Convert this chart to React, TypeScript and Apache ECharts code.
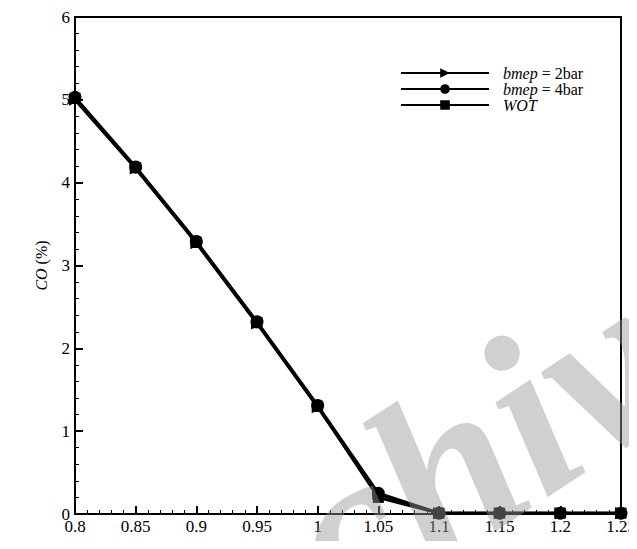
import React, { useEffect, useRef } from "react";
import * as echarts from "echarts";

const lambdaValues = [0.8, 0.85, 0.9, 0.95, 1.0, 1.05, 1.1, 1.15, 1.2, 1.25];
const co2bar = [5.0, 4.17, 3.27, 2.3, 1.29, 0.24, 0.01, 0.01, 0.01, 0.01];
const co4bar = [5.03, 4.19, 3.29, 2.32, 1.31, 0.25, 0.01, 0.01, 0.01, 0.01];
const coWOT = [5.02, 4.18, 3.28, 2.31, 1.3, 0.2, 0.01, 0.01, 0.01, 0.01];
const seriesNames = ["bmep2", "bmep4", "WOT"];
const legendLabels: Record<string, string> = {
  bmep2: "{i|bmep} = 2bar",
  bmep4: "{i|bmep} = 4bar",
  WOT: "{i|WOT}",
};

const FONT = "Liberation Serif, Times New Roman, serif";

export default function App() {
  const ref = useRef<HTMLDivElement>(null);
  useEffect(() => {
    if (!ref.current) return;
    const chart = echarts.init(ref.current, undefined, { renderer: "svg" });
    const pair = (ys: number[]) => lambdaValues.map((x, i) => [x, ys[i]]);
    const baseSeries = {
      type: "line" as const,
      lineStyle: { color: "#000", width: 3 },
      itemStyle: { color: "#000" },
      showSymbol: true,
    };
    chart.setOption({
      animation: false,
      backgroundColor: "#fff",
      textStyle: { fontFamily: FONT },
      grid: {
        left: 75,
        right: 16,
        top: 17,
        bottom: 35,
        show: true,
        borderColor: "#000",
        borderWidth: 2,
        outerBoundsMode: "none",
        containLabel: false,
      },
      legend: {
        data: seriesNames,
        orient: "vertical",
        left: 400,
        top: 65,
        itemWidth: 88,
        itemHeight: 12,
        itemGap: 0,
        padding: 0,
        formatter: (n: string) => legendLabels[n],
        textStyle: {
          fontFamily: FONT,
          fontSize: 16,
          lineHeight: 15,
          color: "#000",
          padding: [0, 0, 0, 9],
          rich: {
            i: { fontFamily: FONT, fontSize: 16, lineHeight: 15, fontStyle: "italic", color: "#000" },
          },
        },
      },
      xAxis: {
        type: "value",
        min: 0.8,
        max: 1.25,
        interval: 0.05,
        name: "λ",
        nameLocation: "middle",
        nameGap: 22,
        nameTextStyle: { fontFamily: FONT, fontSize: 18, fontStyle: "italic", color: "#000" },
        axisLine: { show: true, lineStyle: { color: "#000", width: 2 } },
        axisTick: { show: true, inside: true, length: 8, lineStyle: { color: "#000", width: 2 } },
        minorTick: { show: true, splitNumber: 5, length: 4, lineStyle: { color: "#000", width: 1 } },
        splitLine: { show: false },
        axisLabel: { fontFamily: FONT, fontSize: 17, color: "#000", margin: 4 },
      },
      yAxis: {
        type: "value",
        min: 0,
        max: 6,
        interval: 1,
        name: "{i|CO} (%)",
        nameLocation: "middle",
        nameGap: 26,
        nameTextStyle: {
          fontFamily: FONT,
          fontSize: 16,
          color: "#000",
          rich: { i: { fontFamily: FONT, fontSize: 16, fontStyle: "italic", color: "#000" } },
        },
        axisLine: { show: true, lineStyle: { color: "#000", width: 2 } },
        axisTick: { show: true, inside: true, length: 8, lineStyle: { color: "#000", width: 2 } },
        minorTick: { show: true, splitNumber: 5, length: 4, lineStyle: { color: "#000", width: 1 } },
        splitLine: { show: false },
        axisLabel: { fontFamily: FONT, fontSize: 17, color: "#000", margin: 5 },
      },
      series: [
        {
          ...baseSeries,
          name: "WOT",
          data: pair(coWOT),
          symbol: "rect",
          symbolSize: 11,
          z: 2,
        },
        {
          ...baseSeries,
          name: "bmep2",
          data: pair(co2bar),
          symbol: "triangle",
          symbolRotate: -90,
          symbolSize: 12,
          z: 3,
        },
        {
          ...baseSeries,
          name: "bmep4",
          data: pair(co4bar),
          symbol: "circle",
          symbolSize: 13,
          z: 4,
        },
      ],
      graphic: [
        {
          type: "text",
          x: 472,
          y: 452,
          rotation: 0.58,
          z: 100,
          silent: true,
          style: {
            text: "chiv",
            fontFamily: FONT,
            fontStyle: "italic",
            fontWeight: "bold",
            fontSize: 235,
            fill: "rgba(151,151,151,0.45)",
            align: "center",
            verticalAlign: "middle",
          },
        },
      ],
    });
    return () => chart.dispose();
  }, []);
  return <div ref={ref} style={{ width: 637, height: 549, margin: -8 }} />;
}
